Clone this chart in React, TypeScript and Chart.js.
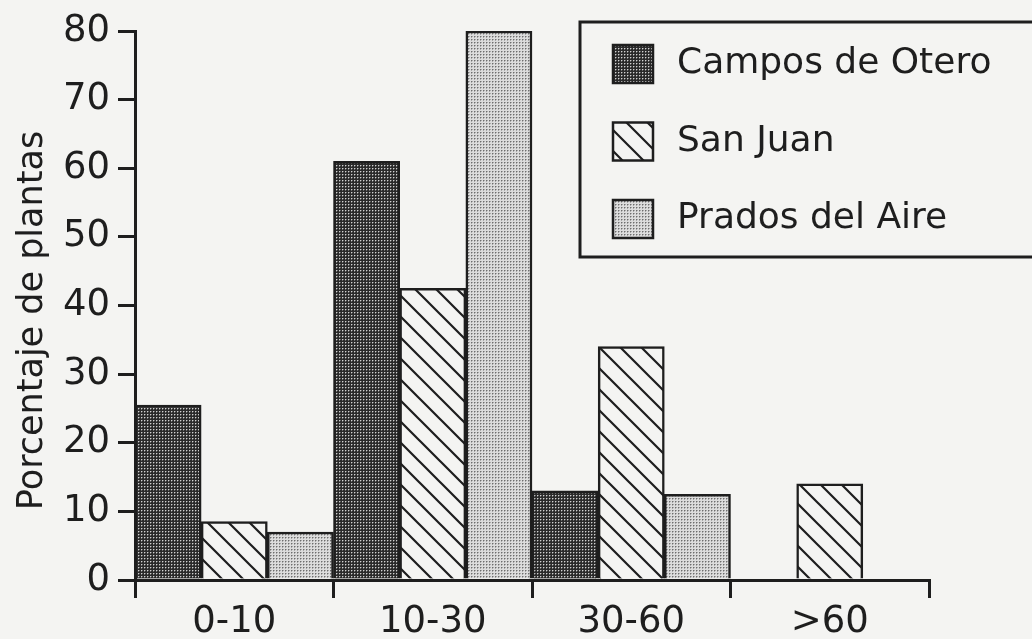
import React, { useEffect, useRef } from "react";
import { Chart, registerables } from "chart.js";

Chart.register(...registerables);

const categories = ["0-10", "10-30", "30-60", ">60"];
const seriesNames = ["Campos de Otero", "San Juan", "Prados del Aire"];
const camposDeOtero = [25.5, 61, 13, 0];
const sanJuan = [8.5, 42.5, 34, 14];
const pradosDelAire = [7, 80, 12.5, 0];
const yMin = 0;
const yMax = 80;
const yStep = 10;
const yTitle = "Porcentaje de plantas";

const INK = "#1e1e1e";
const PAPER = "#f4f4f2";
const FONT = '"DejaVu Sans", sans-serif';

function makeTile(size: number, draw: (c: CanvasRenderingContext2D) => void): CanvasPattern {
  const cv = document.createElement("canvas");
  cv.width = size;
  cv.height = size;
  const c = cv.getContext("2d")!;
  draw(c);
  const ctx = document.createElement("canvas").getContext("2d")!;
  return ctx.createPattern(cv, "repeat")!;
}

function darkStipple() {
  return makeTile(3, (c) => {
    c.fillStyle = "#2a2a2a";
    c.fillRect(0, 0, 3, 3);
    c.fillStyle = "#d0d0d0";
    c.fillRect(0, 0, 1, 1);
    c.fillStyle = "#6a6a6a";
    c.fillRect(1, 0, 1, 1);
    c.fillRect(0, 1, 1, 1);
  });
}

function lightStipple() {
  return makeTile(3, (c) => {
    c.fillStyle = "#dcdcdc";
    c.fillRect(0, 0, 3, 3);
    c.fillStyle = "#6e6e6e";
    c.fillRect(0, 0, 1, 1);
    c.fillStyle = "#a8a8a8";
    c.fillRect(1, 0, 1, 1);
    c.fillRect(0, 1, 1, 1);
  });
}

function hatch() {
  const s = 21;
  return makeTile(s, (c) => {
    c.fillStyle = PAPER;
    c.fillRect(0, 0, s, s);
    c.strokeStyle = INK;
    c.lineWidth = 2.2;
    c.beginPath();
    c.moveTo(-3, -3);
    c.lineTo(s + 3, s + 3);
    c.moveTo(-3, s - 3);
    c.lineTo(3, s + 3);
    c.moveTo(s - 3, -3);
    c.lineTo(s + 3, 3);
    c.stroke();
  });
}

const boxLegend = {
  id: "boxLegend",
  afterDraw(chart: any) {
    const ctx: CanvasRenderingContext2D = chart.ctx;
    ctx.save();
    ctx.strokeStyle = INK;
    ctx.lineWidth = 3;
    ctx.fillStyle = PAPER;
    ctx.fillRect(580, 22, 480, 235);
    ctx.strokeRect(580, 22, 480, 235);
    chart.data.datasets.forEach((ds: any, i: number) => {
      const sy = 45 + i * 77.5;
      ctx.fillStyle = ds.backgroundColor;
      ctx.fillRect(613, sy, 40, 38);
      ctx.lineWidth = 2.5;
      ctx.strokeStyle = INK;
      ctx.strokeRect(613, sy, 40, 38);
      ctx.fillStyle = INK;
      ctx.font = `36px ${FONT}`;
      ctx.textAlign = "left";
      ctx.textBaseline = "middle";
      ctx.fillText(ds.label, 677, sy + 19);
    });
    ctx.restore();
  },
};

// y-axis title, centred on the printed label position
const yTitlePlugin = {
  id: "yTitleText",
  afterDraw(chart: any) {
    const ctx: CanvasRenderingContext2D = chart.ctx;
    const area = chart.chartArea;
    ctx.save();
    ctx.translate(33, (area.top + area.bottom) / 2 + 15);
    ctx.rotate(-Math.PI / 2);
    ctx.fillStyle = INK;
    ctx.font = `35px ${FONT}`;
    ctx.textAlign = "center";
    ctx.textBaseline = "middle";
    ctx.fillText(yTitle, 0, 0);
    ctx.restore();
  },
};

export default function App() {
  const ref = useRef<HTMLCanvasElement>(null);

  useEffect(() => {
    if (!ref.current) return;
    const fills = [darkStipple(), hatch(), lightStipple()];
    const series = [camposDeOtero, sanJuan, pradosDelAire];
    const chart = new Chart(ref.current, {
      type: "bar",
      data: {
        labels: categories,
        datasets: series.map((vals, i) => ({
          label: seriesNames[i],
          data: vals,
          backgroundColor: fills[i] as any,
          borderColor: INK,
          borderWidth: 2.5,
          categoryPercentage: 1,
          barPercentage: 1,
        })),
      },
      options: {
        responsive: false,
        devicePixelRatio: 1,
        animation: false,
        layout: { padding: { top: 31, right: 103, left: 0, bottom: 0 } },
        plugins: {
          legend: { display: false },
          tooltip: { enabled: false },
        },
        scales: {
          x: {
            type: "category",
            offset: true,
            grid: {
              offset: true,
              drawOnChartArea: false,
              drawTicks: true,
              tickLength: 18,
              color: INK,
              lineWidth: 3,
            },
            border: { display: true, color: INK, width: 3 },
            ticks: {
              color: INK,
              font: { size: 37, family: FONT },
              padding: 2,
              maxRotation: 0,
            },
            afterFit: (scale: any) => {
              scale.height = 59;
            },
          },
          y: {
            min: yMin,
            max: yMax,
            grid: {
              drawOnChartArea: false,
              drawTicks: true,
              tickLength: 17,
              color: INK,
              lineWidth: 3,
            },
            border: { display: true, color: INK, width: 3 },
            ticks: {
              stepSize: yStep,
              color: INK,
              font: { size: 37, family: FONT },
              padding: 8,
            },
            title: { display: false, text: yTitle },
            afterFit: (scale: any) => {
              scale.width = 135;
            },
          },
        },
      },
      plugins: [boxLegend, yTitlePlugin],
    });
    return () => chart.destroy();
  }, []);

  return (
    <div
      style={{
        position: "fixed",
        left: 0,
        top: 0,
        width: 1032,
        height: 639,
        background: PAPER,
        overflow: "hidden",
      }}
    >
      <canvas ref={ref} width={1032} height={639} style={{ display: "block" }} />
    </div>
  );
}
